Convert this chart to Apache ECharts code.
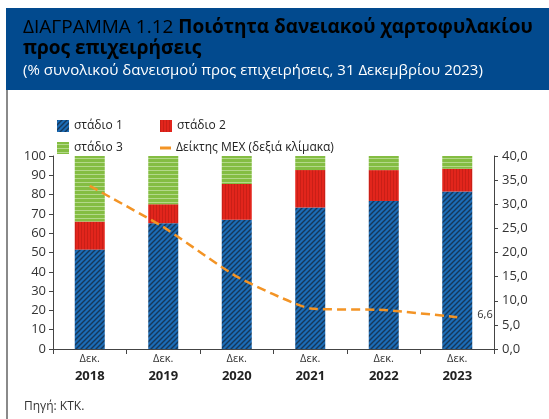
<!DOCTYPE html>
<html>
<head>
<meta charset="utf-8">
<script src="https://cdn.jsdelivr.net/npm/echarts@6/dist/echarts.min.js"></script>
<style>
  html, body { margin: 0; padding: 0; background: #fff; }
  #chart { width: 549px; height: 419px; }
</style>
</head>
<body>
<div id="chart"></div>
<script>
// data
const years = ['2018', '2019', '2020', '2021', '2022', '2023'];
const stage1 = [51.5, 65.2, 67.0, 73.3, 76.7, 81.6];
const stage2 = [14.5, 9.8, 18.5, 19.4, 16.0, 11.8];
const stage3 = [34.0, 25.0, 14.5, 7.3, 7.3, 6.6];
const npe = [33.8, 25.3, 15.0, 8.4, 8.1, 6.6];
const leftTicks = { min: 0, max: 100, interval: 10 };
const rightTicks = { min: 0, max: 40, interval: 5 };

const font = '"Open Sans", "Noto Sans", sans-serif';

function makePattern(w, h, draw) {
  const c = document.createElement('canvas');
  c.width = w;
  c.height = h;
  draw(c.getContext('2d'), w, h);
  return { image: c, repeat: 'repeat' };
}

const bluePattern = makePattern(5, 5, (ctx, s) => {
  ctx.fillStyle = '#1c6cb6';
  ctx.fillRect(0, 0, s, s);
  ctx.strokeStyle = '#15375a';
  ctx.lineWidth = 1.4;
  ctx.beginPath();
  ctx.moveTo(0, s); ctx.lineTo(s, 0);
  ctx.moveTo(-1, 1); ctx.lineTo(1, -1);
  ctx.moveTo(s - 1, s + 1); ctx.lineTo(s + 1, s - 1);
  ctx.stroke();
});

const redPattern = makePattern(3, 2, (ctx, w, h) => {
  ctx.fillStyle = '#e2251c';
  ctx.fillRect(0, 0, w, h);
  ctx.fillStyle = '#c91f17';
  ctx.fillRect(0, 0, 1, h);
});

const greenPattern = makePattern(2, 4, (ctx, w, h) => {
  ctx.fillStyle = '#84bd42';
  ctx.fillRect(0, 0, w, h);
  ctx.fillStyle = '#b3d889';
  ctx.fillRect(0, 2, w, 1);
});

const chart = echarts.init(document.getElementById('chart'));

function legendAt(name, left, top, extra) {
  return Object.assign({
    data: [name],
    left: left,
    top: top,
    itemWidth: 12,
    itemHeight: 12,
    itemGap: 0,
    icon: 'rect',
    selectedMode: false,
    textStyle: { fontFamily: font, fontSize: 12, color: '#222' },
  }, extra || {});
}

const option = {
  animation: false,
  backgroundColor: '#fff',
  graphic: [
    { type: 'rect', shape: { x: 6, y: 8, width: 543, height: 82 }, style: { fill: '#024a8e' } },
    { type: 'rect', shape: { x: 6, y: 90, width: 2, height: 329 }, style: { fill: '#8a8a8a' } },
    {
      type: 'text', left: 23, top: 18,
      style: {
        text: '{r|ΔΙΑΓΡΑΜΜΑ 1.12 }{b|Ποιότητα δανειακού χαρτοφυλακίου}\n{b|προς επιχειρήσεις}',
        rich: {
          r: { fontFamily: font, fontSize: 19, color: '#fff', lineHeight: 21 },
          b: { fontFamily: font, fontSize: 19, fontWeight: 'bold', color: '#fff', lineHeight: 21 },
        },
      },
    },
    {
      type: 'text', left: 23, top: 63,
      style: { text: '(% συνολικού δανεισμού προς επιχειρήσεις, 31 Δεκεμβρίου 2023)', fontFamily: font, fontSize: 15, fill: '#fff' },
    },
    {
      type: 'text', left: 24, top: 401,
      style: { text: 'Πηγή: ΚΤΚ.', fontFamily: font, fontSize: 12, fill: '#333' },
    },
  ],
  legend: [
    legendAt('στάδιο 1', 52, 115),
    legendAt('στάδιο 2', 155, 115),
    legendAt('στάδιο 3', 52, 137),
    legendAt('Δείκτης ΜΕΧ (δεξιά κλίμακα)', 155, 137, { itemWidth: 11, itemHeight: 3 }),
  ],
  grid: { left: 53, right: 55, top: 156, bottom: 70 },
  xAxis: {
    type: 'category',
    data: years,
    axisLine: { lineStyle: { color: '#444', width: 1 } },
    axisTick: { show: true, length: 5, lineStyle: { color: '#444' } },
    axisLabel: {
      margin: 3,
      formatter: v => '{a|Δεκ.}\n{b|' + v + '}',
      rich: {
        a: { fontFamily: font, fontSize: 11, color: '#333', lineHeight: 14 },
        b: { fontFamily: font, fontSize: 13, fontWeight: 'bold', color: '#222', lineHeight: 20 },
      },
    },
  },
  yAxis: [
    {
      type: 'value',
      min: leftTicks.min, max: leftTicks.max, interval: leftTicks.interval,
      axisLine: { show: true, lineStyle: { color: '#444' } },
      axisTick: { show: true, length: 4, lineStyle: { color: '#444' } },
      splitLine: { show: false },
      axisLabel: { fontFamily: font, fontSize: 13, color: '#333', margin: 7 },
    },
    {
      type: 'value',
      position: 'right',
      min: rightTicks.min, max: rightTicks.max, interval: rightTicks.interval,
      axisLine: { show: true, lineStyle: { color: '#444' } },
      axisTick: { show: true, length: 4, lineStyle: { color: '#444' } },
      splitLine: { show: false },
      axisLabel: { fontFamily: font, fontSize: 13, color: '#333', margin: 8, formatter: v => v.toFixed(1).replace('.', ',') },
    },
  ],
  series: [
    { name: 'στάδιο 1', type: 'bar', stack: 'total', barWidth: 30, data: stage1, itemStyle: { color: bluePattern } },
    { name: 'στάδιο 2', type: 'bar', stack: 'total', barWidth: 30, data: stage2, itemStyle: { color: redPattern } },
    { name: 'στάδιο 3', type: 'bar', stack: 'total', barWidth: 30, data: stage3, itemStyle: { color: greenPattern } },
    {
      name: 'Δείκτης ΜΕΧ (δεξιά κλίμακα)',
      type: 'line',
      yAxisIndex: 1,
      data: npe,
      symbol: 'none',
      smooth: 0.15,
      lineStyle: { color: '#f39425', width: 2.5, type: [9, 5] },
      itemStyle: { color: '#f39425' },
      endLabel: {
        show: true,
        distance: 20,
        fontFamily: font,
        fontSize: 11,
        color: '#333',
        offset: [0, -2],
        formatter: p => p.value.toFixed(1).replace('.', ','),
      },
    },
  ],
};

chart.setOption(option);
</script>
</body>
</html>
